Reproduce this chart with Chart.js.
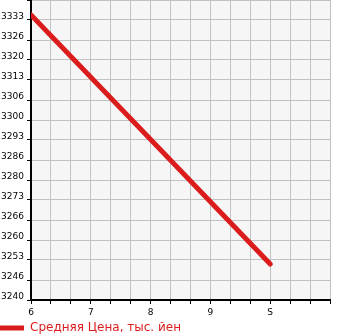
<!DOCTYPE html>
<html>
<head>
<meta charset="utf-8">
<script src="https://cdn.jsdelivr.net/npm/chart.js@4.4.1/dist/chart.umd.min.js"></script>
<style>
    html, body { margin: 0; padding: 0; background: #fff; }
    canvas { display: block; }
</style>
</head>
<body>
<canvas id="price-chart" width="345" height="335"></canvas>
<script>
// series data
const xPoints = [6, 10];
const avgPrice = [3335, 3252];
const seriesLabel = 'Средняя Цена, тыс. йен';

// axis ranges and tick labels
const xMin = 6, xMax = 11;
const xTickLabels = ['6', '', '', '7', '', '', '8', '', '', '9', '', '', 'S', '', '', ''];
const yMin = 3240, yMax = 3340;
const yTickLabels = ['3240', '3246', '3253', '3260', '3266', '3273', '3280', '3286', '3293', '3300', '3306', '3313', '3320', '3326', '3333', ''];

const red = '#db1c1c';
const tickFont = { family: 'DejaVu Sans', size: 9 };

// spread ticks evenly from min to max, one per label
function evenTicks(min, max, labels) {
    return labels.map((_, i) => ({ value: min + i * (max - min) / (labels.length - 1) }));
}

// grey plot area
const plotBackground = {
    id: 'plotBackground',
    beforeDraw(chart) {
        const { ctx, chartArea } = chart;
        ctx.save();
        ctx.fillStyle = '#f6f6f6';
        ctx.fillRect(chartArea.left, chartArea.top, chartArea.width, chartArea.height);
        ctx.restore();
    }
};

new Chart(document.getElementById('price-chart'), {
    type: 'line',
    data: {
        datasets: [{
            label: seriesLabel,
            data: xPoints.map((x, i) => ({ x: x, y: avgPrice[i] })),
            borderColor: red,
            backgroundColor: red,
            borderWidth: 5,
            borderCapStyle: 'round',
            pointRadius: 0,
            tension: 0
        }]
    },
    options: {
        responsive: false,
        animation: false,
        layout: { padding: { left: 0, right: 15, top: 0, bottom: -9 } },
        plugins: {
            tooltip: { enabled: false },
            legend: {
                position: 'bottom',
                align: 'start',
                labels: {
                    color: red,
                    font: { family: 'DejaVu Sans', size: 12 },
                    boxWidth: 24,
                    boxHeight: 5,
                    padding: 0,
                    generateLabels(chart) {
                        const items = Chart.defaults.plugins.legend.labels.generateLabels(chart);
                        items.forEach(item => {
                            item.lineWidth = 0;
                            item.fillStyle = red;
                        });
                        return items;
                    }
                }
            }
        },
        scales: {
            x: {
                type: 'linear',
                min: xMin,
                max: xMax,
                afterBuildTicks: scale => { scale.ticks = evenTicks(xMin, xMax, xTickLabels); },
                afterFit: scale => {
                    scale.height = 22;
                    scale.paddingLeft = 0;
                    scale.paddingRight = 0;
                },
                ticks: {
                    callback: (value, index) => xTickLabels[index],
                    font: tickFont,
                    color: '#000',
                    maxRotation: 0,
                    autoSkip: false,
                    padding: 3
                },
                grid: { color: '#c2c2c2', tickColor: '#000', tickLength: 4 },
                border: { color: '#000', width: 2 }
            },
            y: {
                min: yMin,
                max: yMax,
                afterBuildTicks: scale => { scale.ticks = evenTicks(yMin, yMax, yTickLabels); },
                afterFit: scale => {
                    scale.width = 31;
                    scale.paddingTop = 0;
                    scale.paddingBottom = 0;
                },
                ticks: {
                    callback: (value, index) => yTickLabels[index],
                    font: tickFont,
                    color: '#000',
                    autoSkip: false,
                    labelOffset: -3,
                    padding: 3
                },
                grid: { color: '#c2c2c2', tickColor: '#000', tickLength: 4 },
                border: { color: '#000', width: 2 }
            }
        }
    },
    plugins: [plotBackground]
});
</script>
</body>
</html>
